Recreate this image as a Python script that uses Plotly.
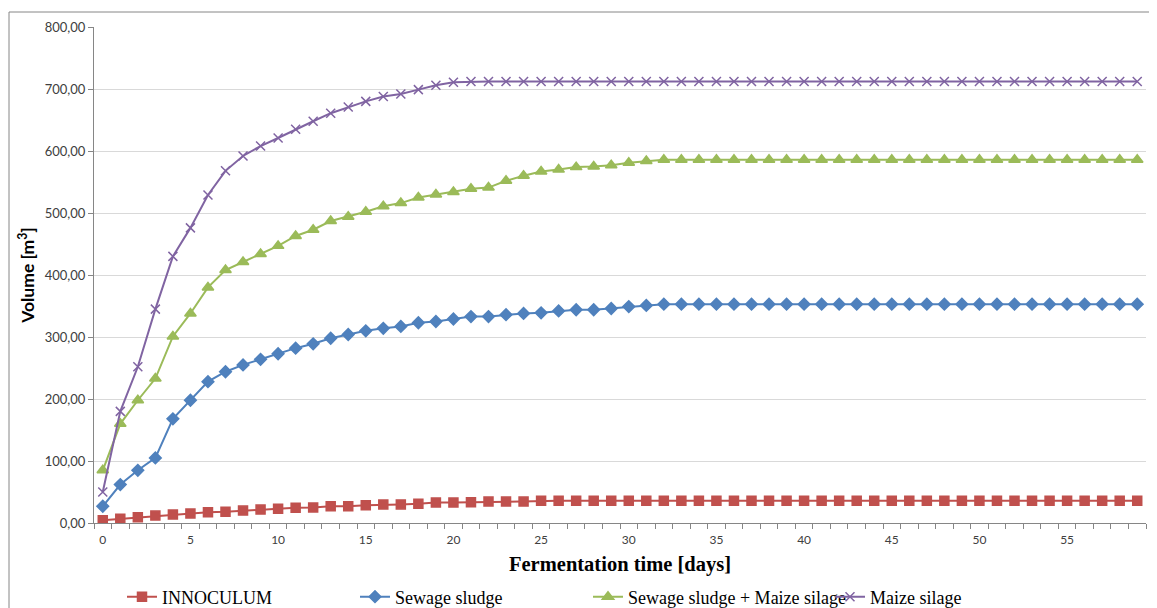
import plotly.graph_objects as go

days = list(range(60))

innoculum = [4.5, 6.7, 9.3, 12, 13.7, 15.3, 17.4, 18, 20, 21.7,
             22.8, 24.4, 25, 27, 27, 28.6, 29.8, 30, 31, 33,
             33, 33.5, 34.6, 34.6, 34.6, 35.7, 35.7, 35.7, 35.7, 35.7,
             35.7, 35.7, 35.7, 35.7, 35.7, 35.7, 35.7, 35.7, 35.7, 35.7,
             35.7, 35.7, 35.7, 35.7, 35.7, 35.7, 35.7, 35.7, 35.7, 35.7,
             35.7, 35.7, 35.7, 35.7, 35.7, 35.7, 35.7, 35.7, 35.7, 35.7]

sewage = [27, 62, 85, 105, 168, 198, 228, 244, 255, 264,
          273, 282, 289, 298, 304, 310, 314, 317, 323, 325,
          329, 333, 333, 336, 338, 339, 342, 344, 344, 346,
          349, 351, 353, 353, 353, 353, 353, 353, 353, 353,
          353, 353, 353, 353, 353, 353, 353, 353, 353, 353,
          353, 353, 353, 353, 353, 353, 353, 353, 353, 353]

sewage_maize = [85, 160, 198, 233, 301, 338, 380, 408, 421, 434,
                447, 463, 473, 487, 494, 502, 511, 516, 525, 530,
                534, 539, 541, 552, 560, 567, 570, 574, 575, 577,
                581, 584, 586, 586, 586, 586, 586, 586, 586, 586,
                586, 586, 586, 586, 586, 586, 586, 586, 586, 586,
                586, 586, 586, 586, 586, 586, 586, 586, 586, 586]

maize = [50, 180, 252, 345, 430, 476, 529, 568, 592, 608,
         621, 635, 648, 661, 671, 680, 688, 692, 699, 706,
         711, 712, 712, 712, 712, 712, 712, 712, 712, 712,
         712, 712, 712, 712, 712, 712, 712, 712, 712, 712,
         712, 712, 712, 712, 712, 712, 712, 712, 712, 712,
         712, 712, 712, 712, 712, 712, 712, 712, 712, 712]

x_ticks = [0, 5, 10, 15, 20, 25, 30, 35, 40, 45, 50, 55]
y_ticks = [0, 100, 200, 300, 400, 500, 600, 700, 800]

series = [
    ("INNOCULUM", innoculum, "#C0504D", "square", 9, 188),
    ("Sewage sludge", sewage, "#4F81BD", "diamond", 9, 188),
    ("Sewage sludge + Maize silage", sewage_maize, "#9BBB59", "triangle-up", 10, 197),
    ("Maize silage", maize, "#8064A2", "x-thin-open", 9, 200),
]

fig = go.Figure()
for name, vals, color, sym, size, lw in series:
    fig.add_trace(go.Scatter(
        x=days, y=vals, name=name, mode="lines+markers",
        line=dict(color=color, width=2),
        marker=dict(symbol=sym, size=size, color=color,
                    line=dict(color=color, width=1.5)),
        legendwidth=lw,
    ))

# page has an 8px body margin; figure is drawn from (8, 8)
OFF = 8
W, H = 1157 - OFF, 608 - OFF
L, R, T, B = 94 - OFF, 11, 27 - OFF, 85
pw, ph = W - L - R, H - T - B

def px_x(p):
    return (p - OFF - L) / pw

def px_y(p):
    return (H - B - (p - OFF)) / ph

fig.update_layout(
    width=W, height=H,
    margin=dict(l=L, r=R, t=T, b=B, autoexpand=False),
    paper_bgcolor="white", plot_bgcolor="white",
    separators=",.",
    showlegend=True,
    legend=dict(orientation="h", x=px_x(122), xanchor="left",
                y=px_y(597), yanchor="middle",
                font=dict(family="Liberation Serif", size=18, color="#000000"),
                entrywidthmode="pixels", bgcolor="rgba(0,0,0,0)"),
    xaxis=dict(range=[-0.5, 59.5], tickvals=x_ticks, ticks="",
               automargin=False,
               showgrid=False, zeroline=False,
               showline=True, linecolor="#868686", linewidth=1,
               ticklabelstandoff=6,
               minor=dict(ticks="outside", tick0=-0.5, dtick=1, ticklen=5,
                          tickcolor="#868686", showgrid=False),
               tickfont=dict(family="Lato", size=12, color="#404040"),
               title=dict(text="<b>Fermentation time [days]</b>", standoff=10,
                          font=dict(family="Liberation Serif", size=20.5, color="#000000"))),
    yaxis=dict(range=[0, 800], tickvals=y_ticks, tickformat=".2f",
               automargin=False,
               ticks="outside", ticklen=5, tickcolor="#868686",
               showgrid=True, gridcolor="#D9D9D9", gridwidth=1,
               zeroline=False, showline=True, linecolor="#868686", linewidth=1,
               tickfont=dict(family="Lato", size=13, color="#404040"),
               title=dict(text="<b>Volume [m<sup>3</sup>]</b>", standoff=5,
                          font=dict(family="Lato", size=17.5, color="#000000"))),
    shapes=[dict(type="rect", xref="paper", yref="paper",
                 x0=px_x(9), x1=px_x(1200), y0=px_y(12), y1=px_y(650),
                 line=dict(color="#868686", width=1), fillcolor="rgba(0,0,0,0)",
                 layer="below")],
)

fig.write_html("out.html")
